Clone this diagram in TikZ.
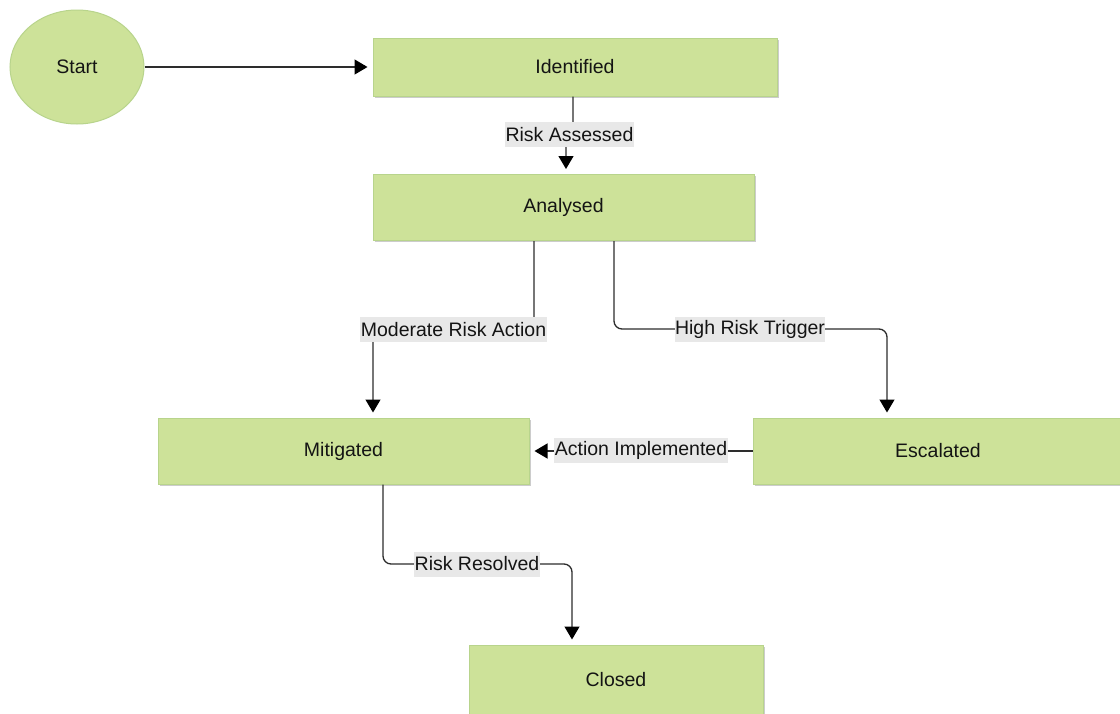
\documentclass[tikz,border=0pt]{standalone}
\usepackage{fontspec}
\setmainfont{Liberation Sans}
\usetikzlibrary{shapes.geometric,arrows.meta,shadows}
\definecolor{boxfill}{RGB}{205,226,153}
\definecolor{boxline}{RGB}{184,212,140}
\definecolor{lblfill}{RGB}{232,232,232}
\definecolor{wire}{RGB}{45,45,45}
\begin{document}
\begin{tikzpicture}[x=1pt,y=-1pt,
  every node/.style={font=\fontsize{19.5}{23}\selectfont, text=black!92},
  state/.style={rectangle, fill=boxfill, draw=boxline, line width=1pt,
    drop shadow={shadow xshift=1.5pt, shadow yshift=-1.5pt, opacity=0.2, fill=black}},
  startnode/.style={ellipse, fill=boxfill, draw=boxline, line width=1pt, inner sep=0pt},
  lbl/.style={fill=lblfill, inner xsep=0.5pt, inner ysep=0pt, minimum height=25pt},
  arr/.style={draw=wire, line width=1.3pt, rounded corners=8pt, shorten >=5pt,
    -{Triangle[length=13pt,width=15pt,color=black]}}]
\useasboundingbox (0,0) rectangle (1120,713);
\clip (0,0) rectangle (1120,713);
\fill[white] (0,0) rectangle (1120,713);

% states
\node[startnode, minimum width=134pt, minimum height=114pt] (start) at (77,67) {Start};
\node[state, minimum width=404pt, minimum height=58pt] (ident) at (575,67) {Identified};
\node[state, minimum width=381pt, minimum height=66pt] (anal) at (563.5,207.5) {Analysed};
\node[state, minimum width=371pt, minimum height=66pt] (mitig) at (343.5,451) {Mitigated};
\node[state, minimum width=370pt, minimum height=66pt] (esc) at (938,451) {Escalated};
\node[state, minimum width=294pt, minimum height=70pt] (closed) at (616,680) {Closed};

% bend levels of the orthogonal connectors
\coordinate (lvlA) at (0,134);
\coordinate (lvlB) at (0,329);
\coordinate (lvlC) at (0,564);

% transitions
\draw[arr] (start.east) -- (ident.west);
\draw[arr] ([xshift=-2pt]ident.south) |- ([xshift=2.5pt]anal.north |- lvlA) -- ([xshift=2.5pt]anal.north);
\draw[arr] ([xshift=-29.5pt]anal.south) |- ([xshift=29.5pt]mitig.north |- lvlB) -- ([xshift=29.5pt]mitig.north);
\draw[arr] ([xshift=50.5pt]anal.south) |- ([xshift=-51pt]esc.north |- lvlB) -- ([xshift=-51pt]esc.north);
\draw[arr] (esc.west) -- (mitig.east);
\draw[arr] ([xshift=39.5pt]mitig.south) |- ([xshift=-44pt]closed.north |- lvlC) -- ([xshift=-44pt]closed.north);

% transition labels
\node[lbl] (lA) at (569.5,134.5) {Risk Assessed};
\node[lbl] (lB) at (453.5,329.5) {Moderate Risk Action};
\node[lbl] (lC) at (750,329.5) {High Risk Trigger};
\node[lbl] (lD) at (641,450.5) {Action Implemented};
\node[lbl] (lE) at (477,564) {Risk Resolved};
\end{tikzpicture}
\end{document}
